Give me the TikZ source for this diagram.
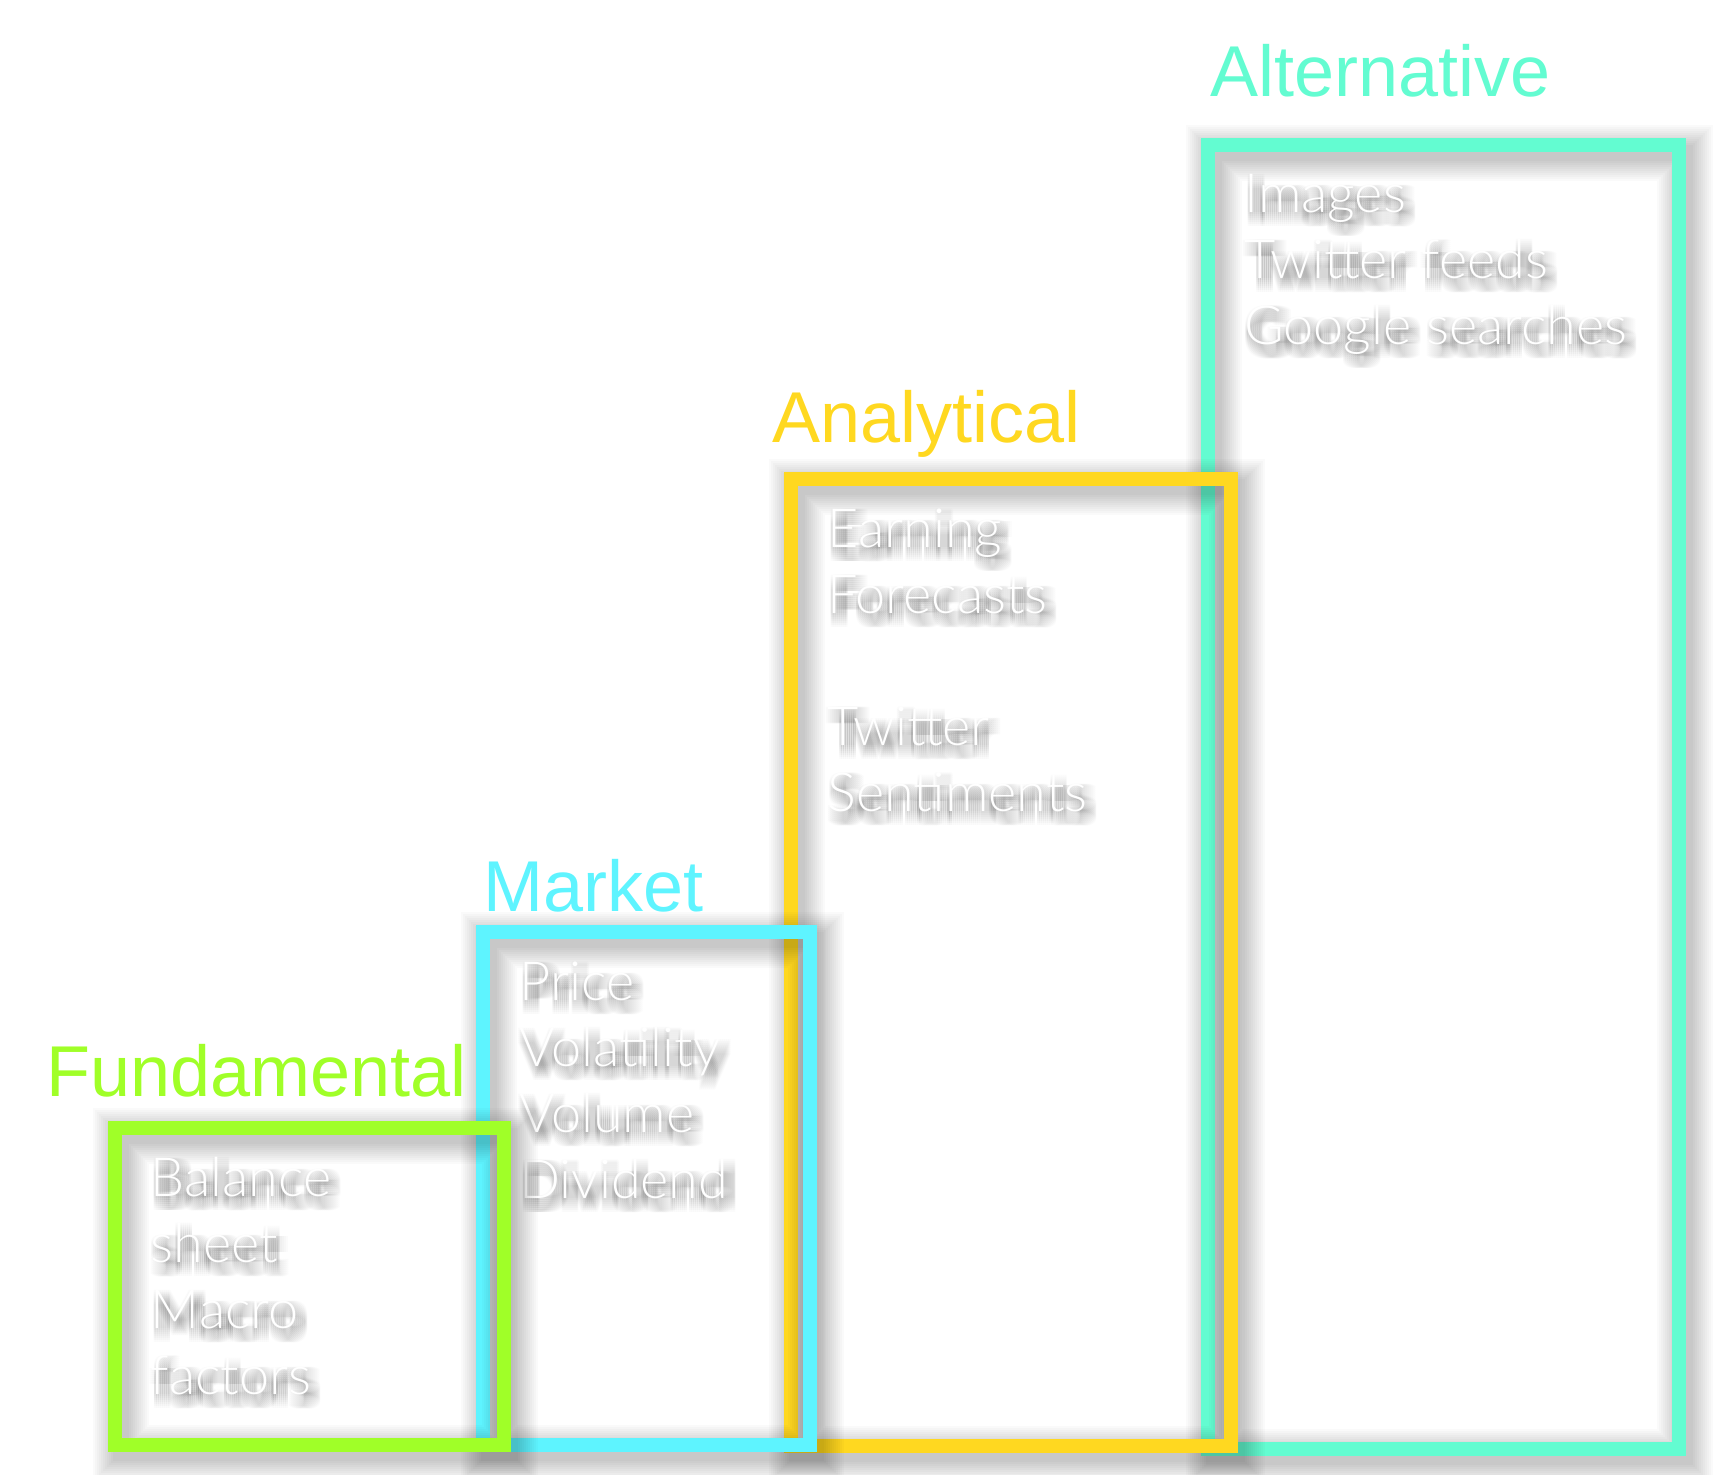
\documentclass[tikz,border=0pt]{standalone}
\usepackage{fontspec}
\setmainfont{Liberation Sans}
\IfFontExistsTF{Lato Light}{\newfontfamily\itemfont{Lato Light}}{\newfontfamily\itemfont{Liberation Sans}}
\usetikzlibrary{positioning}

\definecolor{fundgreen}{HTML}{A0FF28}
\definecolor{marketcyan}{HTML}{5EF4FF}
\definecolor{analyticyellow}{HTML}{FFD820}
\definecolor{altteal}{HTML}{63FCD1}

\tikzset{
  databox/.style={rectangle,outer sep=0pt,inner sep=0pt,anchor=north west},
  boxline/.style={draw=#1,line width=7pt},
  boxtitle/.style={font=\fontsize{36pt}{40pt}\selectfont,anchor=base west,inner sep=0pt,text=#1},
  itemtext/.style={font=\itemfont\fontsize{27pt}{33pt}\selectfont,align=left,anchor=base west,inner sep=0pt,text=white}
}

% soft shadow under a box frame
\newcommand{\boxshadow}[1]{%
  \foreach \w in {8,10,...,28}{%
    \draw[black,opacity=.02,line width=\w pt] ([shift={(6,8)}]#1.north west) rectangle ([shift={(6,8)}]#1.south east);}}

% white item list with a soft grey shadow (anchored at the last line)
\newcommand{\shadowitems}[4]{%
  \foreach \dx in {-2,0,...,12}{\foreach \dy in {0,2,...,14}{%
    \node[itemtext,text=black,text opacity=.014] (#1-sh\dx\dy) at ([shift={(36+\dx,#3+\dy)}]#2.north west) {#4};}}
  \node[itemtext] (#1) at ([shift={(36,#3)}]#2.north west) {#4};
}

\begin{document}
\begin{tikzpicture}[x=0.5pt,y=-0.5pt]
\fill[white] (0,0) rectangle (1719,1474);
\useasboundingbox (0,0) rectangle (1719,1474);

% Alternative
\path node[databox,minimum width=235.5pt,minimum height=652.25pt] (alt) at (1208,144.5) {};
\boxshadow{alt}
\draw[boxline=altteal] (alt.north west) rectangle (alt.south east);
\node[boxtitle=altteal] (alt-title) at (1210,96.5) {Alternative};
\shadowitems{alt-items}{alt}{200}{Images\\Twitter feeds\\Google searches}

% Analytical
\path node[databox,minimum width=220pt,minimum height=483.5pt] (ana) at (791,479) {};
\boxshadow{ana}
\draw[boxline=analyticyellow] (ana.north west) rectangle (ana.south east);
\node[boxtitle=analyticyellow] (ana-title) at (772,442) {Analytical};
\shadowitems{ana-items}{ana}{332}{Earning\\Forecasts\\[33pt]Twitter\\Sentiments}

% Market
\path node[databox,minimum width=163.5pt,minimum height=256.5pt] (mkt) at (483,932) {};
\boxshadow{mkt}
\draw[boxline=marketcyan] (mkt.north west) rectangle (mkt.south east);
\node[boxtitle=marketcyan] (mkt-title) at (483,911) {Market};
\shadowitems{mkt-items}{mkt}{266}{Price\\Volatility\\Volume\\Dividend}

% Fundamental
\path node[databox,minimum width=194.75pt,minimum height=158.5pt] (fund) at (114.5,1128) {};
\boxshadow{fund}
\draw[boxline=fundgreen] (fund.north west) rectangle (fund.south east);
\node[boxtitle=fundgreen] (fund-title) at (46,1096) {Fundamental};
\shadowitems{fund-items}{fund}{266}{Balance\\sheet\\Macro\\factors}
\end{tikzpicture}
\end{document}
